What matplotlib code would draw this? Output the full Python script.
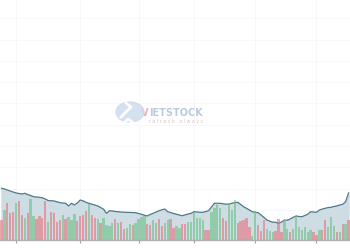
import matplotlib
matplotlib.use("Agg")
import matplotlib.pyplot as plt
from matplotlib.patches import Circle
from matplotlib.transforms import offset_copy

# closing price per session (thousand VND)
price = [14.04, 13.97, 13.88, 13.78, 13.69, 13.60, 13.55, 13.50, 13.57, 13.45,
         13.36, 13.25, 13.22, 13.19, 13.15, 13.03, 12.89, 12.87, 12.85, 12.77,
         12.69, 12.66, 12.63, 12.38, 12.63, 12.47, 12.66, 12.94, 12.85, 12.72,
         12.63, 12.54, 12.47, 12.38, 12.23, 12.07, 11.69, 11.93, 11.91, 11.86,
         11.84, 11.81, 11.79, 11.78, 11.77, 11.76, 11.75, 11.67, 11.60, 11.51,
         11.44, 11.58, 11.69, 11.81, 11.93, 12.02, 12.09, 11.84, 11.76, 11.67,
         11.60, 11.53, 11.46, 11.55, 11.62, 11.69, 11.84, 11.81, 11.79, 11.78,
         11.86, 11.93, 12.28, 12.63, 12.63, 12.63, 12.58, 12.54, 12.56, 12.63,
         12.69, 12.72, 12.52, 12.31, 12.16, 12.00, 11.84, 11.79, 11.75, 11.53,
         11.30, 11.06, 10.95, 10.85, 10.85, 10.75, 10.87, 11.06, 11.03, 11.16,
         11.31, 11.44, 11.39, 11.37, 11.48, 11.60, 11.84, 11.81, 11.78, 12.00,
         12.09, 12.16, 12.23, 12.25, 12.33, 12.38, 12.47, 12.54, 12.78, 13.60]

# traded volume per session (thousand shares)
volume = [1000, 1500, 1850, 1350, 1400, 1850, 1950, 1250, 1100, 1350,
          2050, 1200, 1050, 1200, 1100, 1950, 900, 1400, 1350, 900,
          1000, 1250, 1050, 1150, 1000, 1300, 950, 1200, 1250, 1450,
          1800, 1250, 1100, 1050, 850, 1100, 750, 700, 850, 1050,
          850, 900, 550, 600, 800, 750, 850, 1050, 1150, 1200,
          800, 750, 1000, 850, 1050, 700, 850, 1000, 1050, 600,
          700, 600, 800, 800, 900, 900, 1400, 1100, 1100, 1000,
          500, 500, 1400, 1600, 1850, 1600, 1100, 950, 1850, 1500,
          2000, 850, 950, 1000, 1100, 650, 200, 1450, 750, 450,
          1000, 550, 450, 400, 450, 1050, 400, 1000, 550, 400,
          550, 1200, 650, 500, 650, 400, 500, 400, 250, 500,
          500, 1000, 650, 1150, 700, 400, 400, 800, 800, 1000]

# 1 = session closed up (green), 0 = down (red)
up = [0, 1, 0, 0, 0, 1, 0, 0, 1, 0,
      1, 1, 0, 0, 0, 0, 1, 0, 0, 0,
      0, 1, 0, 1, 1, 1, 0, 0, 0, 0,
      1, 0, 0, 1, 0, 1, 1, 1, 1, 0,
      1, 0, 0, 1, 1, 0, 1, 1, 1, 1,
      0, 0, 1, 1, 0, 0, 1, 1, 0, 0,
      1, 1, 0, 0, 1, 1, 1, 1, 1, 1,
      0, 0, 1, 1, 1, 1, 0, 0, 1, 1,
      1, 0, 0, 0, 0, 0, 1, 1, 0, 0,
      0, 1, 1, 1, 0, 0, 0, 1, 1, 0,
      1, 1, 1, 1, 1, 1, 1, 0, 0, 1,
      0, 0, 1, 1, 1, 0, 1, 0, 1, 0]

# month-start sessions (vertical grid)
month_ticks = [5, 27, 47, 66, 87, 108]
price_grid = [10, 12, 14, 16, 18, 20, 22, 24, 26, 28, 30]

x = list(range(len(price)))
bar_colors = ['#6cbf85' if u else '#e8707c' for u in up]

fig = plt.figure(figsize=(3.5, 2.5), dpi=100)
ax = fig.add_axes([0, 10.3 / 250, 1, 239.7 / 250])
ax_vol = ax.twinx()

# price area
ax.fill_between(x, price, 9.211, color='#cddde3', zorder=1)
ax.plot(x, price, color='#527a8a', lw=0.9, zorder=3)
ax.set_ylim(9.211, 31.718)
ax.set_xlim(-0.5, len(price) - 0.5)
ax.set_yticks(price_grid)
ax.set_xticks(month_ticks)
ax.grid(True, color='#f7f7f7', lw=0.6)
ax.set_axisbelow(True)
ax.tick_params(axis='x', length=2.5, width=0.8, color='#a0a0a0', labelbottom=False)
ax.tick_params(axis='y', length=0, labelleft=False)
for s in ['top', 'left', 'right']:
    ax.spines[s].set_visible(False)
ax.spines['bottom'].set_color('#b0b0b0')
ax.spines['bottom'].set_linewidth(1.0)

# volume bars
ax_vol.bar(x, volume, width=0.82, color=bar_colors, alpha=0.6, zorder=2)
ax_vol.set_ylim(0, 11985)
ax_vol.set_axis_off()

# watermark logo
logo = Circle((130 / 350, 1 - 112 / 250), 14 / 350, transform=fig.transFigure,
              color='#cbdaec', alpha=0.8, zorder=5)
fig.patches.append(logo)
for xs, ys in [([121, 131, 126], [117, 107, 103]), ([123, 128, 135], [124, 119, 124])]:
    fig.lines.append(plt.Line2D([v / 350 for v in xs], [1 - v / 250 for v in ys],
                                transform=fig.transFigure, color='white', lw=2.0,
                                alpha=0.95, zorder=6))
v_txt = fig.text(141 / 350, 1 - 113 / 250, 'V', color='#f1b0b0', fontsize=7.2,
                 fontweight='bold', ha='left', va='center')
v_w = v_txt.get_window_extent(renderer=fig.canvas.get_renderer()).width
fig.text(141 / 350, 1 - 113 / 250, 'IETSTOCK', color='#b9cbe3', fontsize=7.0,
         fontweight='bold', ha='left', va='center',
         transform=offset_copy(fig.transFigure, fig=fig, x=v_w, units='dots'))
fig.text(149 / 350, 1 - 121.5 / 250, 'r e f r e s h   a l w a y s', color='#d9c4c8',
         fontsize=3.4, ha='left', va='center')

fig.savefig('out.png', dpi=100)
